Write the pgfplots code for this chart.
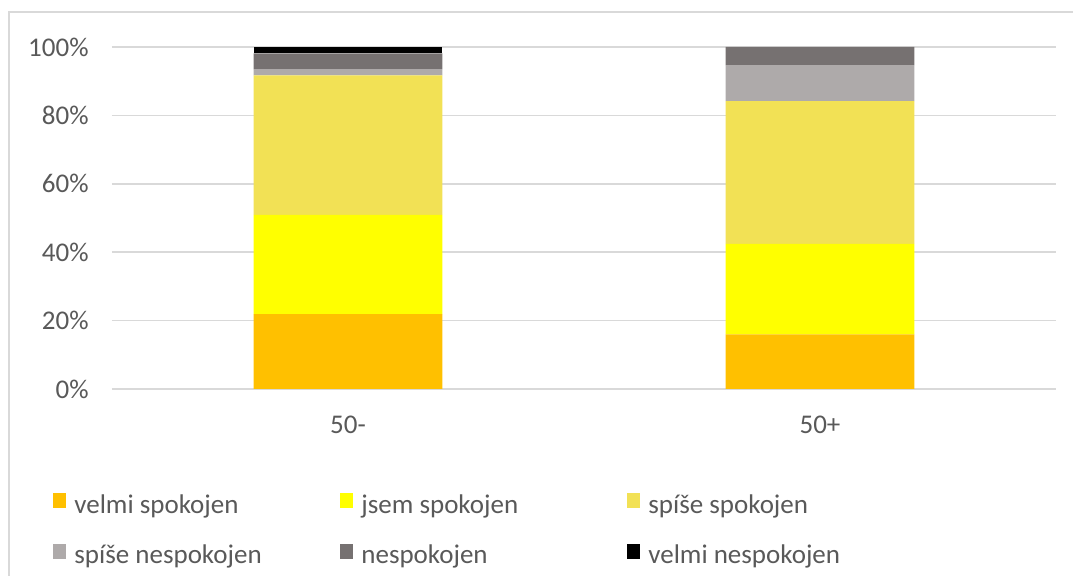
\documentclass[border=0pt]{standalone}
\usepackage{fontspec}
\setmainfont{Carlito}
\usepackage{pgfplots}
\pgfplotsset{compat=1.18}
\definecolor{cA}{HTML}{FFC000}
\definecolor{cB}{HTML}{FFFF00}
\definecolor{cC}{HTML}{F2E155}
\definecolor{cD}{HTML}{AEAAAA}
\definecolor{cE}{HTML}{767171}
\definecolor{cF}{HTML}{000000}
\definecolor{gridc}{HTML}{D9D9D9}
\definecolor{txt}{HTML}{595959}
\pgfplotsset{lg/.style={legend image code/.code={\fill[##1] (0pt,-0.5pt) rectangle (6.5pt,7pt);}}}
\begin{document}
\fontsize{13.5}{16}\selectfont
\begin{tikzpicture}[font=\fontsize{13.5}{16}\selectfont]
\useasboundingbox (0,0) rectangle (536.5pt,288pt);
\draw[gridc, line width=1pt] (4.5pt,-10pt) rectangle (560pt,282pt);
\begin{axis}[
  at={(56pt,93.5pt)}, anchor=south west,
  scale only axis, width=472pt, height=171pt,
  xmin=-0.5, xmax=1.5, ymin=0, ymax=100,
  ybar stacked, bar width=0.4,
  axis line style={draw=none}, major tick style={draw=none},
  ymajorgrids, grid style={gridc, line width=0.75pt},
  ytick={0,20,40,60,80,100},
  yticklabels={0\%,20\%,40\%,60\%,80\%,100\%},
  xtick={0,1}, xticklabels={50-,50+},
  yticklabel style={anchor=east, inner sep=0pt, xshift=-11.5pt, text=txt},
  xticklabel style={anchor=north, inner sep=0pt, yshift=-13.5pt, text=txt},
  legend columns=3,
  legend style={at={(axis description cs:-0.0625,-0.304)}, anchor=north west,
    draw=none, fill=none, inner sep=0pt, column sep=0pt, row sep=12pt,
    nodes={inner xsep=4pt, inner ysep=0pt, text height=9.3pt, text depth=3.2pt, anchor=west, text=txt},
    cells={anchor=west}},
]
\addplot[fill=cA, draw=none, lg] coordinates {(0,21.9) (1,16.0)};
\addlegendentry{\makebox[129pt][l]{velmi spokojen}}
\addplot[fill=cB, draw=none, lg] coordinates {(0,29.0) (1,26.4)};
\addlegendentry{\makebox[129pt][l]{jsem spokojen}}
\addplot[fill=cC, draw=none, lg] coordinates {(0,40.8) (1,41.8)};
\addlegendentry{\makebox[129pt][l]{spíše spokojen}}
\addplot[fill=cD, draw=none, lg] coordinates {(0,1.8) (1,10.5)};
\addlegendentry{\makebox[129pt][l]{spíše nespokojen}}
\addplot[fill=cE, draw=none, lg] coordinates {(0,4.6) (1,5.3)};
\addlegendentry{\makebox[129pt][l]{nespokojen}}
\addplot[fill=cF, draw=none, lg] coordinates {(0,1.9) (1,0)};
\addlegendentry{\makebox[129pt][l]{velmi nespokojen}}
\end{axis}
\end{tikzpicture}
\end{document}
